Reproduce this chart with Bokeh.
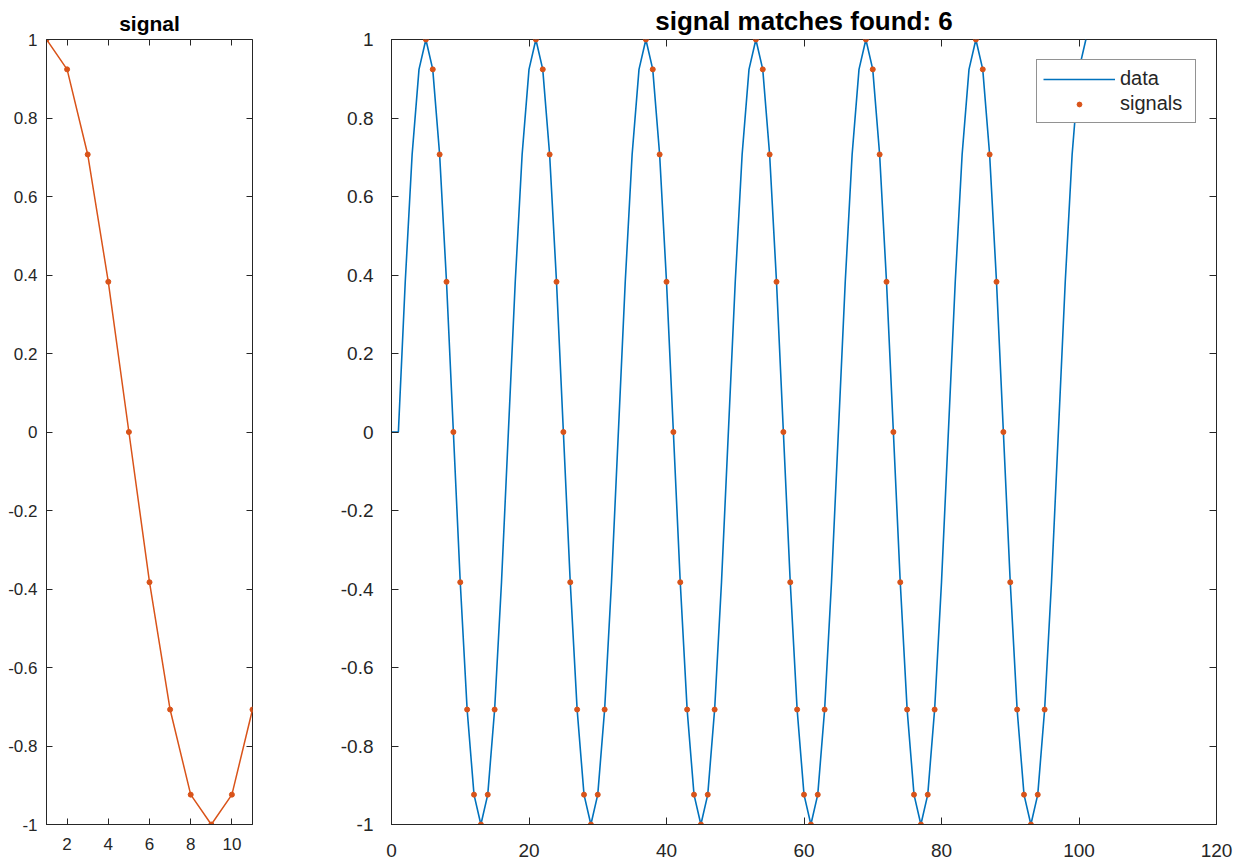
from bokeh.plotting import figure
from bokeh.layouts import row
from bokeh.models import (Range1d, FixedTicker, LinearAxis, CustomJSTickFormatter,
                          Legend, LegendItem)
from bokeh.embed import file_html
from bokeh.resources import INLINE

# ---------------- data ----------------
signal_x = [1, 2, 3, 4, 5, 6, 7, 8, 9, 10, 11]
signal_y = [1, 0.9239, 0.7071, 0.3827, 0, -0.3827, -0.7071, -0.9239, -1, -0.9239, -0.7071]

data_x = list(range(0, 102))
data_y = [0,
          0, 0.3827, 0.7071, 0.9239, 1, 0.9239, 0.7071, 0.3827, 0, -0.3827, -0.7071, -0.9239, -1, -0.9239, -0.7071, -0.3827,
          0, 0.3827, 0.7071, 0.9239, 1, 0.9239, 0.7071, 0.3827, 0, -0.3827, -0.7071, -0.9239, -1, -0.9239, -0.7071, -0.3827,
          0, 0.3827, 0.7071, 0.9239, 1, 0.9239, 0.7071, 0.3827, 0, -0.3827, -0.7071, -0.9239, -1, -0.9239, -0.7071, -0.3827,
          0, 0.3827, 0.7071, 0.9239, 1, 0.9239, 0.7071, 0.3827, 0, -0.3827, -0.7071, -0.9239, -1, -0.9239, -0.7071, -0.3827,
          0, 0.3827, 0.7071, 0.9239, 1, 0.9239, 0.7071, 0.3827, 0, -0.3827, -0.7071, -0.9239, -1, -0.9239, -0.7071, -0.3827,
          0, 0.3827, 0.7071, 0.9239, 1, 0.9239, 0.7071, 0.3827, 0, -0.3827, -0.7071, -0.9239, -1, -0.9239, -0.7071, -0.3827,
          0, 0.3827, 0.7071, 0.9239, 1]

match_starts = [5, 21, 37, 53, 69, 85]

y_ticks = [-1, -0.8, -0.6, -0.4, -0.2, 0, 0.2, 0.4, 0.6, 0.8, 1]
left_x_ticks = [2, 4, 6, 8, 10]
right_x_ticks = [0, 20, 40, 60, 80, 100, 120]

left_title = "signal"
right_title = "signal matches found: 6"

# signal points placed at every match location
sig_pts_x = [s + (sx - signal_x[0]) for s in match_starts for sx in signal_x]
sig_pts_y = [sy for s in match_starts for sy in signal_y]

BLUE = "#0072BD"
ORANGE = "#D95319"
AXC = "#262626"
FONT = "Liberation Sans"


def style(p, xticks, font_size, xstand, ystand, tick_len, title_size, title_standoff):
    p.xgrid.visible = False
    p.ygrid.visible = False
    p.outline_line_color = AXC
    p.outline_line_width = 1
    p.outline_line_alpha = 1
    p.title.text_font = FONT
    p.title.text_font_size = title_size
    p.title.text_font_style = "bold"
    p.title.text_color = "#000000"
    p.title.align = "center"
    p.title.standoff = title_standoff
    p.title.offset = 0
    fmt = CustomJSTickFormatter(code="return String(Math.round(tick*10)/10);")
    for ax, ticks, stand in ((p.xaxis[0], xticks, xstand), (p.yaxis[0], y_ticks, ystand)):
        ax.ticker = FixedTicker(ticks=ticks)
        ax.formatter = fmt
        ax.major_label_text_font = FONT
        ax.major_label_text_font_size = font_size
        ax.major_label_text_color = AXC
        ax.major_label_standoff = stand
        ax.major_tick_in = tick_len
        ax.major_tick_out = 0
        ax.minor_tick_in = 0
        ax.minor_tick_out = 0
        ax.axis_line_color = AXC
        ax.major_tick_line_color = AXC
    # mirrored ticks on top and right (drawn as unlabeled minor ticks)
    for loc, ticks in (("above", xticks), ("right", y_ticks)):
        ax = LinearAxis(ticker=FixedTicker(ticks=[], minor_ticks=ticks),
                        major_label_standoff=0, major_tick_in=0, major_tick_out=0,
                        minor_tick_in=tick_len, minor_tick_out=0, axis_line_color=None,
                        minor_tick_line_color=AXC)
        p.add_layout(ax, loc)


# ---------------- left panel ----------------
pl = figure(frame_width=206, frame_height=785, output_backend="svg", toolbar_location=None,
            x_range=Range1d(1, 11), y_range=Range1d(-1, 1), title=left_title,
            min_border_left=46, min_border_right=10, min_border_top=39, min_border_bottom=41)
style(pl, left_x_ticks, "17px", 13, 9, 6, "21px", 10)
pl.line(signal_x, signal_y, line_color=ORANGE, line_width=1.5)
pl.scatter(signal_x, signal_y, size=5, fill_color=ORANGE, line_color=ORANGE)

# ---------------- right panel ----------------
pr = figure(frame_width=825, frame_height=785, output_backend="svg", toolbar_location=None,
            x_range=Range1d(0, 120), y_range=Range1d(-1, 1), title=right_title,
            min_border_left=129, min_border_right=20, min_border_top=39, min_border_bottom=41)
style(pr, right_x_ticks, "19px", 19, 18, 7, "26px", 7)
l1 = pr.line(data_x, data_y, line_color=BLUE, line_width=1.6)
s1 = pr.scatter(sig_pts_x, sig_pts_y, size=5, fill_color=ORANGE, line_color=ORANGE)

legend = Legend(items=[LegendItem(label="data", renderers=[l1]),
                       LegendItem(label="signals", renderers=[s1])],
                location="top_right", margin=20, padding=6, spacing=0,
                glyph_width=72, glyph_height=12, label_height=25, label_width=69,
                label_standoff=5, label_text_font=FONT, label_text_font_size="20px",
                label_text_color=AXC, border_line_color=AXC, border_line_width=1,
                background_fill_color="white", background_fill_alpha=1)
pr.add_layout(legend)

layout = row(pl, pr)
open("out.html", "w").write(file_html(layout, INLINE))
